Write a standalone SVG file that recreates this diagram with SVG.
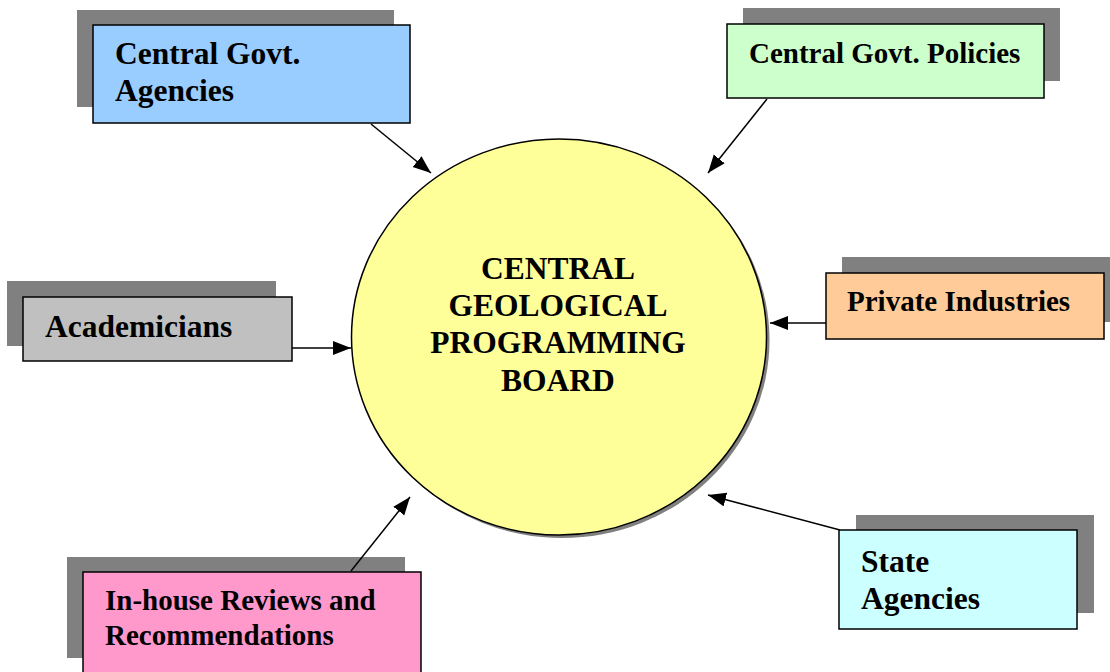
<svg xmlns="http://www.w3.org/2000/svg" width="1110" height="672" viewBox="0 0 1110 672">
<style>
.shadow{fill:#808080;stroke:none}
.box{stroke:#000;stroke-width:1.5}
.t{font-family:"Liberation Serif","Times New Roman",serif;font-weight:bold;fill:#000}
.big{font-size:31.5px}
.sm{font-size:29px}
.ctr{font-size:31.5px;text-anchor:middle}
.conn{stroke:#000;stroke-width:1.5;fill:none;marker-end:url(#arr)}
</style>
<defs>
<marker id="arr" markerUnits="userSpaceOnUse" markerWidth="20" markerHeight="16" refX="18" refY="7" orient="auto">
<path d="M0,0 L18,7 L0,14 z" fill="#000"/>
</marker>
</defs>
<rect width="1110" height="672" fill="#fff"/>

<g id="board">
<ellipse cx="562" cy="340" rx="207.5" ry="198" class="shadow"/>
<ellipse cx="559" cy="337" rx="207.5" ry="198" fill="#FFFF99" stroke="#000" stroke-width="1.5"/>
<text class="t ctr" x="558" y="279">CENTRAL</text>
<text class="t ctr" x="558" y="316">GEOLOGICAL</text>
<text class="t ctr" x="558" y="353">PROGRAMMING</text>
<text class="t ctr" x="558" y="391">BOARD</text>
</g>

<g id="central-govt-agencies">
<rect class="shadow" x="77" y="10" width="317" height="97"/>
<rect class="box" x="93" y="25" width="317" height="98" fill="#99CCFF"/>
<text class="t big" x="115" y="64">Central Govt.</text>
<text class="t big" x="115" y="101">Agencies</text>
</g>

<g id="central-govt-policies">
<rect class="shadow" x="743" y="8" width="317" height="73"/>
<rect class="box" x="727" y="24" width="317" height="74" fill="#CCFFCC"/>
<text class="t sm" x="749" y="63">Central Govt. Policies</text>
</g>

<g id="academicians">
<rect class="shadow" x="7" y="281" width="269" height="65"/>
<rect class="box" x="23" y="297" width="269" height="64" fill="#C0C0C0"/>
<text class="t big" x="45" y="337">Academicians</text>
</g>

<g id="private-industries">
<rect class="shadow" x="842" y="257" width="278" height="65"/>
<rect class="box" x="826" y="273" width="278" height="66" fill="#FFCC99"/>
<text class="t sm" x="847" y="311">Private Industries</text>
</g>

<g id="in-house-reviews">
<rect class="shadow" x="67" y="557" width="338" height="101"/>
<rect class="box" x="83" y="572" width="338" height="104" fill="#FF99CC"/>
<text class="t sm" x="105" y="610">In-house Reviews and</text>
<text class="t sm" x="105" y="645">Recommendations</text>
</g>

<g id="state-agencies">
<rect class="shadow" x="856" y="515" width="238" height="98"/>
<rect class="box" x="839" y="530" width="238" height="99" fill="#CCFFFF"/>
<text class="t big" x="861" y="572">State</text>
<text class="t big" x="861" y="609">Agencies</text>
</g>

<g id="connectors">
<line class="conn" x1="371" y1="124" x2="431" y2="173"/>
<line class="conn" x1="767" y1="99" x2="708" y2="173"/>
<line class="conn" x1="292" y1="348" x2="351" y2="348"/>
<line class="conn" x1="826" y1="323" x2="770" y2="323"/>
<line class="conn" x1="351" y1="571" x2="410" y2="497"/>
<line class="conn" x1="840" y1="530" x2="708" y2="495"/>
</g>
</svg>
